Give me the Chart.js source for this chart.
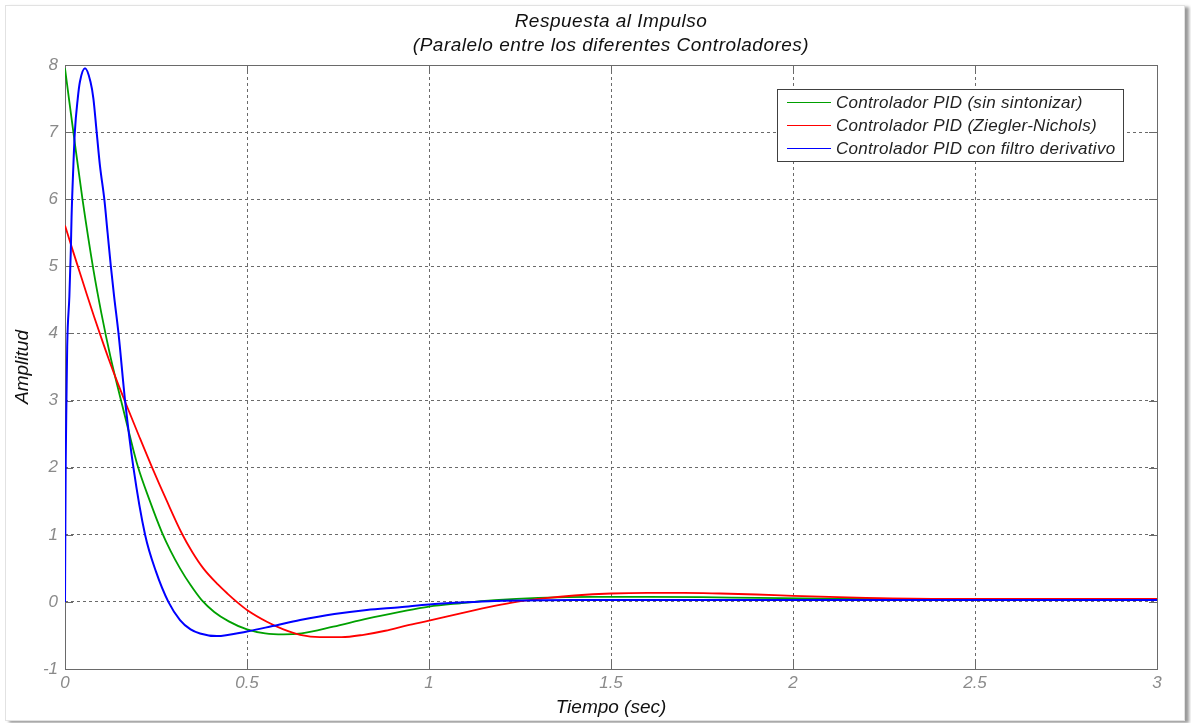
<!DOCTYPE html>
<html>
<head>
<meta charset="utf-8">
<title>Respuesta al Impulso</title>
<script src="https://cdn.jsdelivr.net/npm/chart.js@4"></script>
<style>
    html, body { margin: 0; padding: 0; background: #fff; }
    #marco {
        position: absolute; left: 5px; top: 5px;
        width: 1178px; height: 714px;
        border: 1px solid #e2e2e2;
        box-shadow: 4px 2px 3px #9a9a9a;
        background: #fff;
    }
    #grafico { position: absolute; left: 0; top: 0; }
</style>
</head>
<body>
<div id="marco"></div>
<canvas id="grafico" width="1191" height="723"></canvas>
<script>
// Datos (tiempo en s, amplitud)
const tiempoVerde = [0, 0.012, 0.023, 0.048, 0.078, 0.1, 0.125, 0.154, 0.176, 0.2, 0.232, 0.266, 0.29, 0.316, 0.345, 0.375, 0.41, 0.45, 0.5, 0.55, 0.6, 0.65, 0.737, 0.83, 0.92, 1.0, 1.087, 1.18, 1.3, 1.45, 1.6, 1.75, 1.9, 2.1, 2.4, 2.7, 3.0];
const amplitudVerde = [7.95, 7.45, 7.0, 6.0, 4.95, 4.3, 3.65, 3.0, 2.52, 2.02, 1.52, 1.04, 0.76, 0.5, 0.25, 0.03, -0.15, -0.29, -0.41, -0.47, -0.485, -0.47, -0.37, -0.25, -0.15, -0.07, -0.02, 0.025, 0.06, 0.075, 0.075, 0.07, 0.06, 0.05, 0.04, 0.04, 0.04];

const tiempoRojo = [0, 0.02, 0.04, 0.06, 0.08, 0.1, 0.12, 0.142, 0.169, 0.205, 0.238, 0.28, 0.32, 0.35, 0.38, 0.42, 0.447, 0.472, 0.5, 0.556, 0.6, 0.646, 0.7, 0.76, 0.82, 0.88, 0.94, 1.0, 1.087, 1.18, 1.24, 1.32, 1.4, 1.5, 1.6, 1.7, 1.8, 1.9, 2.0, 2.2, 2.43, 2.7, 3.0];
const amplitudRojo = [5.61, 5.26, 4.92, 4.58, 4.25, 3.93, 3.62, 3.3, 2.93, 2.45, 2.02, 1.5, 1.03, 0.74, 0.5, 0.26, 0.12, 0.0, -0.12, -0.3, -0.41, -0.49, -0.525, -0.525, -0.49, -0.43, -0.35, -0.28, -0.17, -0.06, 0.0, 0.055, 0.095, 0.125, 0.135, 0.135, 0.125, 0.11, 0.09, 0.06, 0.045, 0.045, 0.045];

const tiempoAzul = [0, 0.001, 0.002, 0.004, 0.006, 0.012, 0.016, 0.018, 0.023, 0.027, 0.035, 0.041, 0.055, 0.07, 0.078, 0.087, 0.096, 0.108, 0.117, 0.126, 0.135, 0.147, 0.165, 0.188, 0.22, 0.25, 0.284, 0.316, 0.345, 0.371, 0.417, 0.5, 0.57, 0.646, 0.74, 0.829, 0.92, 1.0, 1.087, 1.18, 1.4, 2.0, 3.0];
const amplitudAzul = [0, 1.15, 2.1, 3.0, 3.8, 4.55, 5.24, 5.73, 6.5, 7.0, 7.5, 7.75, 7.95, 7.75, 7.5, 7.0, 6.5, 6.0, 5.5, 5.0, 4.55, 4.0, 3.0, 2.0, 1.0, 0.45, 0.0, -0.27, -0.41, -0.47, -0.51, -0.44, -0.36, -0.27, -0.18, -0.12, -0.08, -0.04, -0.01, 0.015, 0.03, 0.03, 0.03];

const ticksX = [0, 0.5, 1, 1.5, 2, 2.5, 3];
const ticksY = [-1, 0, 1, 2, 3, 4, 5, 6, 7, 8];

const etiquetas = [
    "Controlador PID (sin sintonizar)",
    "Controlador PID (Ziegler-Nichols)",
    "Controlador PID con filtro derivativo"
];
const colores = ["#00a000", "#ff0000", "#0000ff"];

const titulo = ["Respuesta al Impulso", "(Paralelo entre los diferentes Controladores)"];

function puntos(tiempos, valores) {
    return tiempos.map((t, i) => ({ x: t, y: valores[i] }));
}

const familia = "'Liberation Sans', Arial, sans-serif";

// Marco, marcas interiores, titulo y leyenda al estilo MATLAB
const estiloMatlab = {
    id: "estiloMatlab",
    beforeDatasetsDraw(chart) {
        const { ctx, chartArea: a, scales } = chart;
        ctx.save();
        ctx.strokeStyle = "#6a6a6a";
        ctx.lineWidth = 1;
        ctx.beginPath();
        ticksX.forEach((v) => {
            const x = Math.round(scales.x.getPixelForValue(v)) + 0.5;
            ctx.moveTo(x, a.bottom); ctx.lineTo(x, a.bottom - 8);
            ctx.moveTo(x, a.top); ctx.lineTo(x, a.top + 8);
        });
        ticksY.forEach((v) => {
            const y = Math.round(scales.y.getPixelForValue(v)) + 0.5;
            ctx.moveTo(a.left, y); ctx.lineTo(a.left + 8, y);
            ctx.moveTo(a.right, y); ctx.lineTo(a.right - 8, y);
        });
        ctx.stroke();
        ctx.strokeRect(Math.round(a.left) + 0.5, Math.round(a.top) + 0.5,
            Math.round(a.right - a.left), Math.round(a.bottom - a.top));
        ctx.restore();
    },
    afterDraw(chart) {
        const { ctx, chartArea: a } = chart;
        ctx.save();
        // titulo
        ctx.fillStyle = "#111";
        ctx.font = "italic 19px " + familia;
        ctx.letterSpacing = "0.5px";
        ctx.textAlign = "center";
        ctx.textBaseline = "middle";
        const cx = (a.left + a.right) / 2;
        ctx.fillText(titulo[0], cx, 22);
        ctx.fillText(titulo[1], cx, 46);

        // leyenda
        const lx = 777, ly = 89, lw = 346, lh = 72;
        ctx.fillStyle = "#fff";
        ctx.fillRect(lx, ly, lw, lh);
        ctx.strokeStyle = "#404040";
        ctx.lineWidth = 1;
        ctx.strokeRect(lx + 0.5, ly + 0.5, lw, lh);
        ctx.font = "italic 17px " + familia;
        ctx.letterSpacing = "0.3px";
        ctx.textAlign = "left";
        const filas = [102, 125, 148];
        etiquetas.forEach((txt, i) => {
            ctx.strokeStyle = colores[i];
            ctx.beginPath();
            ctx.moveTo(787, filas[i] + 0.5);
            ctx.lineTo(831, filas[i] + 0.5);
            ctx.stroke();
            ctx.fillStyle = "#222";
            ctx.fillText(txt, 836, filas[i] + 1);
        });
        ctx.restore();
    }
};

const fuenteTicks = { family: familia, size: 17, style: "italic" };
const fuenteEjes = { family: familia, size: 19, style: "italic" };

new Chart(document.getElementById("grafico"), {
    type: "line",
    data: {
        datasets: [
            {
                label: etiquetas[0],
                data: puntos(tiempoVerde, amplitudVerde),
                borderColor: colores[0],
                borderWidth: 1.8,
                order: 3
            },
            {
                label: etiquetas[1],
                data: puntos(tiempoRojo, amplitudRojo),
                borderColor: colores[1],
                borderWidth: 1.8,
                order: 2
            },
            {
                label: etiquetas[2],
                data: puntos(tiempoAzul, amplitudAzul),
                borderColor: colores[2],
                borderWidth: 2,
                order: 1
            }
        ]
    },
    options: {
        responsive: false,
        animation: false,
        layout: { padding: { left: 0, top: 65, right: 34, bottom: 0 } },
        elements: {
            point: { radius: 0 },
            line: { cubicInterpolationMode: "monotone", fill: false }
        },
        plugins: {
            legend: { display: false },
            title: { display: false },
            tooltip: { enabled: false }
        },
        scales: {
            x: {
                type: "linear",
                min: 0,
                max: 3,
                afterBuildTicks: (s) => { s.ticks = ticksX.map((v) => ({ value: v })); },
                afterFit: (s) => { s.height = 54; },
                grid: { color: "#6a6a6a", drawTicks: false },
                border: { display: false, dash: [3, 3] },
                ticks: { color: "#8a8a8a", font: fuenteTicks, padding: 4, maxRotation: 0,
                         callback: (v) => String(v) },
                title: {
                    display: true,
                    text: "Tiempo (sec)",
                    color: "#111",
                    font: fuenteEjes,
                    padding: { top: 0, bottom: 4 }
                }
            },
            y: {
                type: "linear",
                min: -1,
                max: 8,
                afterBuildTicks: (s) => { s.ticks = ticksY.map((v) => ({ value: v })); },
                afterFit: (s) => { s.width = 65; },
                grid: { color: "#6a6a6a", drawTicks: false },
                border: { display: false, dash: [3, 3] },
                ticks: { color: "#8a8a8a", font: fuenteTicks, padding: 7,
                         callback: (v) => String(v) },
                title: {
                    display: true,
                    text: "Amplitud",
                    color: "#111",
                    font: fuenteEjes,
                    padding: { top: 11, bottom: 0 }
                }
            }
        }
    },
    plugins: [estiloMatlab]
});
</script>
</body>
</html>
